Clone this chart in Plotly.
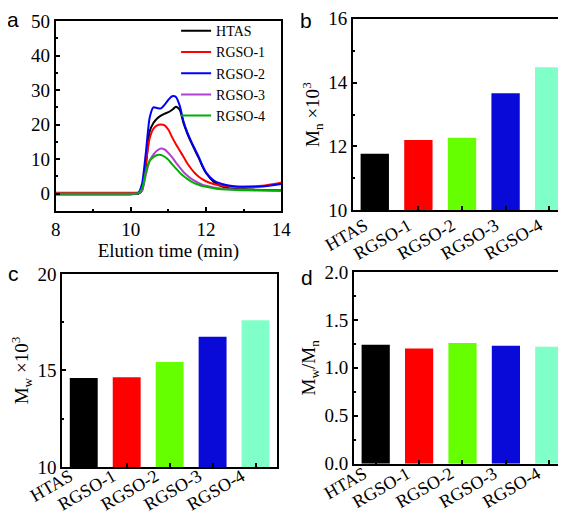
import plotly.graph_objects as go

# ---------------- data ----------------
time_min = [8.0, 9.0, 10.0, 10.2, 10.3, 10.4, 10.5, 10.6, 10.7, 10.8, 10.9, 11.0, 11.1, 11.2, 11.3,
            11.4, 11.5, 11.6, 11.7, 11.8, 11.9, 12.0, 12.2, 12.4, 12.6, 12.8, 13.0, 13.5, 14.0]
htas = [0, 0, 0, 0, 1, 8, 18, 20.5, 21.8, 22.6, 23.2, 23.6, 24.3, 25.2, 24.3,
        20.5, 17.5, 15.0, 12.7, 10.5, 8.0, 6.0, 3.5, 2.2, 1.6, 1.4, 1.3, 1.1, 1.0]
rgso1 = [0.3, 0.3, 0.3, 0.4, 1.5, 9, 16, 18.8, 19.8, 20.0, 19.8, 18.5, 16.3, 14.3, 12.5,
         10.7, 8.8, 7.3, 6.0, 5.0, 4.2, 3.6, 2.8, 2.3, 2.1, 2.0, 2.0, 2.3, 3.2]
rgso2 = [-0.2, -0.2, -0.2, 0.2, 3, 12, 22, 25, 24.8, 24.7, 25.8, 27.2, 28.2, 28.0, 25.5,
         21, 17.8, 15.3, 13.0, 10.8, 8.3, 6.2, 3.9, 2.9, 2.4, 2.1, 2.0, 2.1, 2.8]
rgso3 = [0, 0, 0, 0.1, 1, 5.5, 9.5, 11.3, 12.5, 13.1, 12.8, 11.8, 10.5, 9.0, 7.6,
         6.3, 5.3, 4.4, 3.7, 3.1, 2.6, 2.3, 1.8, 1.5, 1.3, 1.2, 1.1, 0.9, 0.8]
rgso4 = [0, 0, 0, 0.2, 1.5, 6.5, 9.5, 10.6, 11.2, 11.2, 10.7, 9.8, 8.5, 7.3, 6.1,
         5.1, 4.3, 3.6, 3.0, 2.6, 2.2, 2.0, 1.6, 1.3, 1.2, 1.1, 1.0, 1.0, 1.0]

samples = ["HTAS", "RGSO-1", "RGSO-2", "RGSO-3", "RGSO-4"]
mn = [11.77, 12.20, 12.27, 13.67, 14.48]
mw = [14.61, 14.65, 15.44, 16.75, 17.60]
pdi = [1.242, 1.203, 1.259, 1.231, 1.221]

line_colors = ["#000000", "#ff0000", "#0000ff", "#b040d0", "#00b000"]
bar_colors = ["#000000", "#ff0000", "#66ff00", "#0a0ad8", "#80ffc8"]

SERIF = "Liberation Serif"
SANS = "Liberation Sans"

fig = go.Figure()

curves = [htas, rgso1, rgso2, rgso3, rgso4]
for name, ys, c in zip(samples, curves, line_colors):
    fig.add_trace(go.Scatter(x=time_min, y=ys, mode="lines", name=name,
                             line=dict(color=c, width=2, shape="spline", smoothing=0.6),
                             xaxis="x", yaxis="y"))

for vals, ax in [(mn, "2"), (mw, "3"), (pdi, "4")]:
    fig.add_trace(go.Bar(x=samples, y=vals, marker=dict(color=bar_colors, line=dict(width=0)),
                         width=0.65, showlegend=False, xaxis="x" + ax, yaxis="y" + ax))

axis_common = dict(showline=True, linecolor="black", linewidth=2, mirror=True,
                   ticks="inside", ticklen=4, tickwidth=1.5, tickcolor="black",
                   showgrid=False, zeroline=False, automargin=False,
                   tickfont=dict(family=SERIF, size=19, color="black"))
cat_axis = {**axis_common, "tickfont": dict(family=SERIF, size=18, color="black")}

fig.update_layout(
    width=566, height=513,
    margin=dict(l=0, r=0, t=0, b=0, autoexpand=False),
    paper_bgcolor="white", plot_bgcolor="white",
    xaxis=dict(domain=[0.0843, 0.4826], anchor="y", range=[8, 14], dtick=2,
               minor=dict(ticks="inside", ticklen=2, dtick=1, tickcolor="black"),
               title=dict(text="Elution time (min)", font=dict(family=SERIF, size=19, color="black"),
                          standoff=0),
               **axis_common),
    yaxis=dict(domain=[0.6043, 0.9747], anchor="x", range=[-5, 50], tickvals=[0, 10, 20, 30, 40, 50],
               minor=dict(ticks="inside", ticklen=2, dtick=5, tickcolor="black"),
               **axis_common),
    xaxis2=dict(domain=[0.6095, 0.9947], anchor="y2", range=[-0.5, 4.5], tickangle=-30,
                ticklabelshift=-10, ticklabelstandoff=-4, **cat_axis),
    yaxis2=dict(domain=[0.6056, 0.9790], anchor="x2", range=[10, 16], dtick=2,
                minor=dict(ticks="inside", ticklen=2, dtick=1, tickcolor="black"),
                title=dict(text="M<sub>n</sub> ×10<sup>3</sup>", font=dict(family=SERIF, size=19, color="black"),
                           standoff=4),
                **axis_common),
    xaxis3=dict(domain=[0.0959, 0.4753], anchor="y3", range=[-0.5, 4.5], tickangle=-30,
                ticklabelshift=-14, ticklabelstandoff=-10, **cat_axis),
    yaxis3=dict(domain=[0.1053, 0.4815], anchor="x3", range=[10, 20], dtick=5,
                minor=dict(ticks="inside", ticklen=2, dtick=2.5, tickcolor="black"),
                title=dict(text="M<sub>w</sub> ×10<sup>3</sup>", font=dict(family=SERIF, size=19, color="black"),
                           standoff=6),
                **axis_common),
    xaxis4=dict(domain=[0.6113, 0.9947], anchor="y4", range=[-0.5, 4.5], tickangle=-30,
                ticklabelshift=-12, ticklabelstandoff=-9, **cat_axis),
    yaxis4=dict(domain=[0.1117, 0.4854], anchor="x4", range=[0, 2], dtick=0.5, tickformat=".1f",
                minor=dict(ticks="inside", ticklen=2, dtick=0.25, tickcolor="black"),
                title=dict(text="M<sub>w</sub>/M<sub>n</sub>", font=dict(family=SERIF, size=19, color="black"),
                           standoff=4),
                **axis_common),
    legend=dict(x=0.297, y=0.986, xanchor="left", yanchor="top", bgcolor="rgba(0,0,0,0)",
                font=dict(family=SERIF, size=14, color="black"), itemwidth=30,
                tracegroupgap=0),
)

panel_labels = ["a", "b", "c", "d"]
label_x = [0.0088, 0.5265, 0.0106, 0.5274]
label_y = [0.978, 0.9756, 0.482, 0.4737]
for txt, x, y in zip(panel_labels, label_x, label_y):
    fig.add_annotation(text=txt, x=x, y=y, xref="paper", yref="paper", xanchor="center", yanchor="middle",
                       showarrow=False, font=dict(family=SANS, size=21, color="black"))

fig.write_html("out.html")
